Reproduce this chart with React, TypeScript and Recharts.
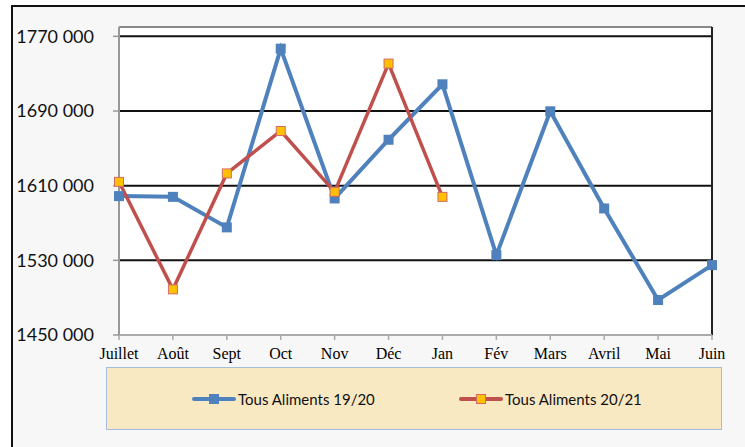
import React from "react";
import { LineChart, Line, XAxis, YAxis, CartesianGrid, ReferenceLine } from "recharts";

const months = ["Juillet", "Août", "Sept", "Oct", "Nov", "Déc", "Jan", "Fév", "Mars", "Avril", "Mai", "Juin"];
const series1920 = [1598800, 1598000, 1565300, 1756800, 1596300, 1659200, 1718600, 1535600, 1689700, 1585600, 1487500, 1524900];
const series2021 = [1614100, 1498900, 1623100, 1668600, 1603400, 1740800, 1598000];
const yTicks = [1450000, 1530000, 1610000, 1690000, 1770000];
const seriesNames = ["Tous Aliments 19/20", "Tous Aliments 20/21"];

const data = months.map((m, i) => ({
  month: m,
  a: series1920[i],
  b: i < series2021.length ? series2021[i] : null,
}));

const fmt = (v: number) => `${Math.floor(v / 1000)} ${String(v % 1000).padStart(3, "0")}`;

const BlueDot = (props: any) => {
  const { cx, cy } = props;
  if (cx == null || cy == null) return null;
  return <rect x={cx - 5} y={cy - 5} width={10} height={10} fill="#4f81bd" />;
};
const RedDot = (props: any) => {
  const { cx, cy } = props;
  if (cx == null || cy == null) return null;
  return <rect x={cx - 4.5} y={cy - 4.5} width={9} height={9} fill="#ffc000" stroke="#d46a66" strokeWidth={1} />;
};

export default function App() {
  return (
    <div style={{ position: "absolute", left: 0, top: 0, width: 745, height: 447, background: "#fff", overflow: "hidden" }}>
      <div
        style={{
          position: "absolute",
          left: 11,
          top: 5,
          width: 760,
          height: 460,
          borderLeft: "2px solid #111",
          borderTop: "2px solid #111",
          background: "#f7f7f7",
        }}
      />
      <div style={{ position: "absolute", left: 0, top: 0 }}>
        <LineChart width={745} height={447} data={data} margin={{ top: 27, right: 33, bottom: 82, left: 0 }}>
          <CartesianGrid vertical={false} stroke="#111" strokeWidth={2} fill="#fff" fillOpacity={1} />
          <ReferenceLine y={1780000} stroke="#888" strokeWidth={2} />
          <ReferenceLine x="Juin" stroke="#222" strokeWidth={2} />
          <XAxis
            dataKey="month"
            interval={0}
            height={30}
            axisLine={{ stroke: "#aaa", strokeWidth: 2 }}
            tickLine={{ stroke: "#aaa", strokeWidth: 1.5 }}
            tickSize={5}
            tickMargin={8}
            tick={{ fill: "#000", fontSize: 16, fontFamily: "Liberation Serif" }}
          />
          <YAxis
            width={119}
            domain={[1450000, 1780000]}
            ticks={yTicks}
            tickFormatter={fmt}
            axisLine={{ stroke: "#999", strokeWidth: 2 }}
            tickLine={{ stroke: "#999", strokeWidth: 1.5 }}
            tickSize={6}
            tickMargin={19}
            tick={{ fill: "#111", fontSize: 18, fontFamily: "Lato" }}
            allowDataOverflow
          />
          <Line
            dataKey="a"
            name={seriesNames[0]}
            stroke="#4f81bd"
            strokeWidth={4}
            dot={<BlueDot />}
            activeDot={false}
            isAnimationActive={false}
          />
          <Line
            dataKey="b"
            name={seriesNames[1]}
            stroke="#c0504d"
            strokeWidth={3.5}
            dot={<RedDot />}
            activeDot={false}
            isAnimationActive={false}
          />
        </LineChart>
      </div>
      <div
        style={{
          position: "absolute",
          left: 106,
          top: 367,
          width: 614,
          height: 61,
          background: "#f8e9c3",
          border: "1px solid #a6bddb",
          fontFamily: "Lato",
          fontSize: 15,
          color: "#111",
        }}
      >
        <div style={{ position: "absolute", left: 85, top: 21, height: 20, display: "flex", alignItems: "center" }}>
          <svg width={44} height={12}>
            <line x1={2} y1={6} x2={42} y2={6} stroke="#4f81bd" strokeWidth={4} strokeLinecap="round" />
            <rect x={17} y={1} width={10} height={10} fill="#4f81bd" />
          </svg>
          <span style={{ marginLeft: 2 }}>{seriesNames[0]}</span>
        </div>
        <div style={{ position: "absolute", left: 352, top: 21, height: 20, display: "flex", alignItems: "center" }}>
          <svg width={44} height={12}>
            <line x1={2} y1={6} x2={42} y2={6} stroke="#c0504d" strokeWidth={4} strokeLinecap="round" />
            <rect x={17.5} y={1.5} width={9} height={9} fill="#ffc000" stroke="#d46a66" strokeWidth={1} />
          </svg>
          <span style={{ marginLeft: 2 }}>{seriesNames[1]}</span>
        </div>
      </div>
    </div>
  );
}
